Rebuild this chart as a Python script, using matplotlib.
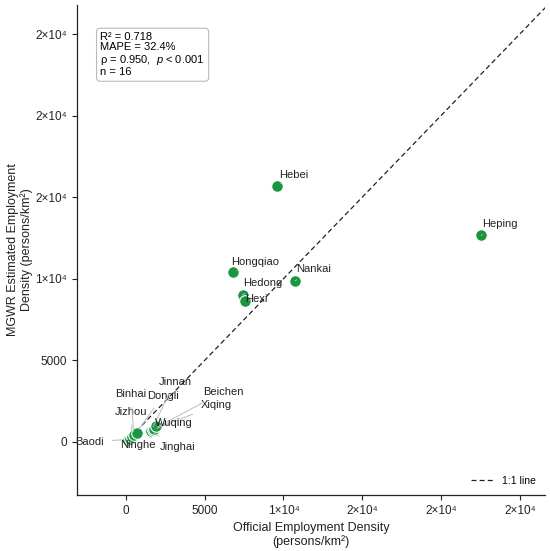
import matplotlib
matplotlib.use('Agg')
import matplotlib.pyplot as plt
from matplotlib.ticker import FuncFormatter, MultipleLocator

plt.rcParams['font.family'] = ['Liberation Sans', 'DejaVu Sans']
plt.rcParams['mathtext.fontset'] = 'custom'
plt.rcParams['mathtext.rm'] = 'Liberation Sans'
plt.rcParams['mathtext.it'] = 'Liberation Sans:italic'

# district values (persons/km2)
districts = ['Hebei', 'Heping', 'Nankai', 'Hongqiao', 'Hedong', 'Hexi',
             'Baodi', 'Ninghe', 'Jizhou', 'Binhai', 'Dongli',
             'Jinghai', 'Jinnan', 'Xiqing', 'Beichen', 'Wuqing']
official = [9590, 22550, 10740, 6800, 7410, 7560,
            130, 290, 380, 510, 700,
            1520, 1620, 1710, 1780, 1900]
estimated = [15690, 12670, 9880, 10420, 9010, 8660,
             150, 180, 280, 400, 580,
             670, 700, 740, 800, 980]

stats_text = 'R² = 0.718\nMAPE = 32.4%\nρ = 0.950,  $\\it{p}$ < 0.001\nn = 16'

# label placement (text position in data units)
label_pos = {
    'Hebei': (10650, 16350), 'Heping': (23750, 13350), 'Nankai': (11900, 10600),
    'Hongqiao': (8200, 11030), 'Hedong': (8700, 9740), 'Hexi': (8260, 8760),
    'Baodi': (-2300, 20), 'Ninghe': (750, -190), 'Jizhou': (360, 1860),
    'Binhai': (320, 2940), 'Dongli': (2330, 2840), 'Jinghai': (3290, -290),
    'Jinnan': (3110, 3700), 'Xiqing': (5720, 2270), 'Beichen': (6180, 3080),
    'Wuqing': (3050, 1150),
}


def sci_fmt(v, pos):
    if v >= 10000:
        return '%d×10⁴' % round(v / 1e4)
    return '%d' % v


fig = plt.figure(figsize=(5.5, 5.51), dpi=100)
ax = fig.add_axes([0.14, 0.1016, 0.851, 0.89])

ax.plot([300, 27000], [300, 27000], linestyle='--', color='#222222',
        lw=0.9, dashes=(4, 2.5), label='1:1 line', zorder=1)

ax.scatter(official, estimated, s=70, color='#1a9641', edgecolor='white',
           linewidth=0.8, zorder=3)

for name, xv, yv in zip(districts, official, estimated):
    tx, ty = label_pos[name]
    ax.annotate(name, xy=(xv, yv), xytext=(tx, ty), fontsize=8,
                color='#222222', ha='center', va='center', zorder=4,
                arrowprops=dict(arrowstyle='-', color='#bbbbbb', lw=0.7,
                                shrinkA=4, shrinkB=3))

ax.text(0.05, 0.944, stats_text, transform=ax.transAxes, fontsize=8,
        va='top', ha='left', linespacing=1.05,
        bbox=dict(boxstyle='round,pad=0.35', facecolor='white',
                  edgecolor='#bbbbbb', lw=0.8))

ax.set_xlim(-3100, 26600)
ax.set_ylim(-3250, 26800)
ax.xaxis.set_major_locator(MultipleLocator(5000))
ax.yaxis.set_major_locator(MultipleLocator(5000))
ax.xaxis.set_major_formatter(FuncFormatter(sci_fmt))
ax.yaxis.set_major_formatter(FuncFormatter(sci_fmt))
ax.tick_params(labelsize=8.5, length=3.5, width=0.8, colors='#222222')

for side in ['top', 'right']:
    ax.spines[side].set_visible(False)
for side in ['left', 'bottom']:
    ax.spines[side].set_linewidth(0.9)
    ax.spines[side].set_color('#222222')

ax.set_xlabel('Official Employment Density\n(persons/km²)', fontsize=9,
              color='#222222', labelpad=4, linespacing=1.1)
ax.set_ylabel('MGWR Estimated Employment\nDensity (persons/km²)', fontsize=9,
              color='#222222', labelpad=2, linespacing=1.1)

ax.legend(loc='lower right', frameon=False, fontsize=7.5, handlelength=2.2)

fig.savefig('out.png', dpi=100)
